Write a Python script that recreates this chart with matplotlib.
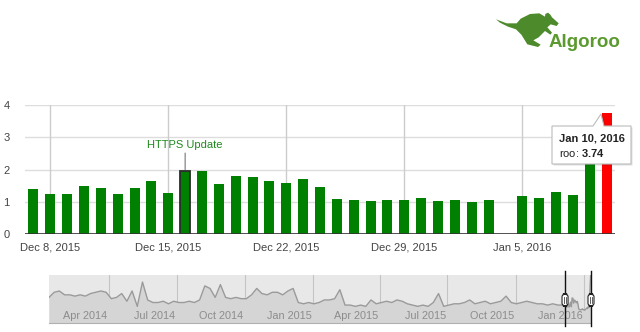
import numpy as np
import matplotlib
matplotlib.use('Agg')
import matplotlib.pyplot as plt
import matplotlib.dates as mdates
from matplotlib.patches import Polygon, FancyBboxPatch

plt.rcParams['font.family'] = ['Liberation Sans', 'DejaVu Sans']
plt.rcParams['mathtext.fontset'] = 'custom'
plt.rcParams['mathtext.rm'] = 'Liberation Sans'
plt.rcParams['mathtext.bf'] = 'Liberation Sans:bold'

# ---------------- data ----------------
main_start = '2015-12-07'
roo_values = [1.40, 1.24, 1.24, 1.50, 1.43, 1.24, 1.43, 1.63, 1.27, 1.95,
              1.94, 1.55, 1.79, 1.76, 1.63, 1.58, 1.69, 1.45,
              1.09, 1.05, 1.03, 1.05, 1.05, 1.11, 1.03,
              1.05, 1.00, 1.05, np.nan, 1.19, 1.12, 1.31, 1.21, 2.40, 3.74]
x_tick_dates = ['2015-12-08', '2015-12-15', '2015-12-22', '2015-12-29', '2016-01-05']
x_tick_labels = ['Dec 8, 2015', 'Dec 15, 2015', 'Dec 22, 2015', 'Dec 29, 2015', 'Jan 5, 2016']
y_ticks = [0, 1, 2, 3, 4]
annotation_date = '2015-12-16'
annotation_text = 'HTTPS Update'
tooltip_title = 'Jan 10, 2016'
tooltip_series = 'roo'

# weekly overview values (range navigator), from 2014-01-10
nav_start = '2014-01-10'
nav_weekly = [2.0, 2.4, 2.5, 2.2, 2.2, 2.1, 2.2, 2.1, 2.3, 2.4,
              2.5, 2.4, 1.9, 2.0, 2.3, 1.7, 2.5, 1.3, 3.2, 1.8,
              1.6, 1.6, 1.7, 1.5, 1.7, 1.6, 1.6, 1.7, 1.6, 1.8,
              2.9, 2.7, 2.0, 3.0, 2.0, 1.9, 2.0, 1.9, 1.9, 2.2,
              2.7, 2.3, 2.2, 2.4, 2.4, 2.2, 2.5, 2.7, 1.6, 1.5,
              1.6, 1.5, 1.6, 1.8, 1.8, 1.9, 2.6, 1.4, 1.4, 1.3,
              1.4, 1.3, 1.8, 1.5, 1.6, 1.7, 1.6, 1.8, 1.7, 1.5,
              1.4, 1.3, 1.4, 1.3, 1.6, 2.3, 1.3, 1.4, 1.5, 1.5,
              1.6, 1.8, 1.5, 1.6, 1.7, 1.5, 1.6, 1.7, 2.1, 1.6,
              1.5, 1.6, 1.7, 1.6, 1.5, 1.5, 1.4, 1.5, 1.4]
nav_quarters = ['2014-04-01', '2014-07-01', '2014-10-01', '2015-01-01',
                '2015-04-01', '2015-07-01', '2015-10-01', '2016-01-01']
nav_labels = ['Apr 2014', 'Jul 2014', 'Oct 2014', 'Jan 2015',
              'Apr 2015', 'Jul 2015', 'Oct 2015', 'Jan 2016']

# ---------------- helpers ----------------
W, H = 640, 332
def fx(px):
    return px / W
def fy(py):
    return 1 - py / H

main_dates = np.arange(np.datetime64(main_start), np.datetime64(main_start) + len(roo_values))
main_num = mdates.date2num(main_dates)
vals = np.array(roo_values, dtype=float)

fig = plt.figure(figsize=(6.4, 3.32), dpi=100)
fig.patch.set_facecolor('white')

# ---------------- main chart ----------------
ax = fig.add_axes([fx(25), fy(234), fx(615) - fx(25), fy(105) - fy(234)])
ax.set_facecolor('white')
colors = ['#008000'] * len(vals)
colors[-1] = '#ff0000'
ok = ~np.isnan(vals)
ax.bar(main_num[ok], vals[ok], width=0.6, color=np.array(colors)[ok], zorder=3, linewidth=0)
ann_num = mdates.date2num(np.datetime64(annotation_date))
ai = int(np.where(main_num == ann_num)[0][0])
ax.bar([ann_num], [vals[ai]], width=0.6, color='#008000', edgecolor='#2b2b2b', linewidth=1.3, zorder=4)

ax.set_xlim(main_num[0] - 0.5, main_num[-1] + 0.5)
ax.set_ylim(0, 4)
tick_num = mdates.date2num(np.array(x_tick_dates, dtype='datetime64[D]'))
ax.set_xticks(tick_num)
ax.set_xticklabels(x_tick_labels)
ax.set_yticks(y_ticks)
ax.set_yticklabels([str(t) for t in y_ticks])
ax.tick_params(axis='both', length=0, labelsize=8, colors='#444444')
ax.tick_params(axis='x', pad=6)
ax.tick_params(axis='y', pad=11)
for s in ax.spines.values():
    s.set_visible(False)
for t in y_ticks[1:]:
    ax.axhline(t, color='#dddddd', lw=1, zorder=1)
for t in tick_num:
    ax.axvline(t, color='#cccccc', lw=1, zorder=1)
ax.axhline(0, color='#333333', lw=1.2, zorder=5)

# annotation
ax.annotate(annotation_text, xy=(ann_num, vals[ai]), xytext=(0, 15),
            textcoords='offset points', ha='center', va='bottom',
            fontsize=8, color='#1e8a1e',
            arrowprops=dict(arrowstyle='-', color='#777777', lw=0.8,
                            shrinkA=0, shrinkB=1))

# tooltip
verts = [(552, 126), (593, 126), (601, 114), (604, 126), (631, 126), (631, 164), (552, 164)]
shadow = Polygon([(fx(x + 1.5), fy(y + 1.5)) for x, y in verts], closed=True,
                 transform=fig.transFigure, facecolor='#000000', alpha=0.12,
                 edgecolor='none', zorder=9)
box = Polygon([(fx(x), fy(y)) for x, y in verts], closed=True,
              transform=fig.transFigure, facecolor='white', edgecolor='#bbbbbb',
              lw=0.8, zorder=10)
fig.patches.extend([shadow, box])
fig.text(fx(559), fy(138), tooltip_title, fontsize=8, fontweight='bold',
         color='#222222', va='center', ha='left', zorder=11)
fig.text(fx(559), fy(153), tooltip_series + r': $\mathbf{%.2f}$' % vals[-1], fontsize=8,
         color='#222222', va='center', ha='left', zorder=11)

# ---------------- navigator ----------------
nav_dates = np.datetime64(nav_start) + 7 * np.arange(len(nav_weekly))
all_dates = np.concatenate([nav_dates, main_dates[ok]])
all_vals = np.concatenate([np.array(nav_weekly), vals[ok]])
all_num = mdates.date2num(all_dates)

nav = fig.add_axes([fx(49), fy(323), fx(591) - fx(49), fy(275) - fy(323)])
nav.set_facecolor('#e8e8e8')
nav.fill_between(all_num, all_vals, 0, color='#d5d5d5', lw=0, zorder=2)
nav.plot(all_num, all_vals, color='#9a9a9a', lw=1.0, zorder=3)
nav.set_xlim(mdates.date2num(np.datetime64(nav_start)), main_num[-1] + 0.5)
nav.set_ylim(0, 3.75)
nav.set_xticks([])
nav.set_yticks([])
for s in nav.spines.values():
    s.set_visible(False)
nav.spines['bottom'].set_visible(True)
nav.spines['bottom'].set_color('#b0b0b0')
q_num = mdates.date2num(np.array(nav_quarters, dtype='datetime64[D]'))
for q, lab in zip(q_num, nav_labels):
    nav.axvline(q, color='#c4c4c4', lw=0.8, zorder=1)
    nav.text(q - 2, 0.55, lab, ha='right', va='center', fontsize=7.8,
             color='#8c8c8c', zorder=4)

for hx in [main_num[0] - 0.5, main_num[-1] + 0.5]:
    nav.plot([hx, hx], [-0.25, 4.1], color='#111111', lw=1.0, clip_on=False, zorder=6)
    px = nav.transData.transform((hx, 0))[0] / fig.dpi * 100
    hb = FancyBboxPatch((fx(px - 3), fy(306)), fx(6), 12 / H,
                        boxstyle='round,pad=0,rounding_size=0.008',
                        transform=fig.transFigure, facecolor='white',
                        edgecolor='#222222', lw=0.8, zorder=12)
    fig.patches.append(hb)
    for dxp in (-0.9, 0.9):
        fig.lines.append(plt.Line2D([fx(px + dxp), fx(px + dxp)], [fy(303), fy(297)],
                                    transform=fig.transFigure, color='#444444', lw=0.6, zorder=13))

# ---------------- logo ----------------
kang = [(48, 58), (80, 70), (110, 70), (122, 56), (150, 42), (178, 40), (195, 50),
        (196, 42), (204, 38), (211, 44), (216, 52), (236, 70), (230, 78), (212, 73),
        (202, 82), (216, 98), (211, 104), (195, 93), (186, 102), (176, 112),
        (160, 121), (182, 134), (174, 141), (142, 133), (134, 120), (124, 104),
        (108, 88), (84, 80), (60, 68)]
kp = Polygon([(fx(480 + x / 3), fy(y / 3)) for x, y in kang], closed=True,
             transform=fig.transFigure, facecolor='#4c8a2c', edgecolor='none')
fig.patches.append(kp)
fig.text(fx(549), fy(47), 'Algoroo', fontsize=13.5, fontweight='bold',
         color='#5a9a2e', ha='left', va='baseline')

fig.savefig('out.png', dpi=100, facecolor='white')
